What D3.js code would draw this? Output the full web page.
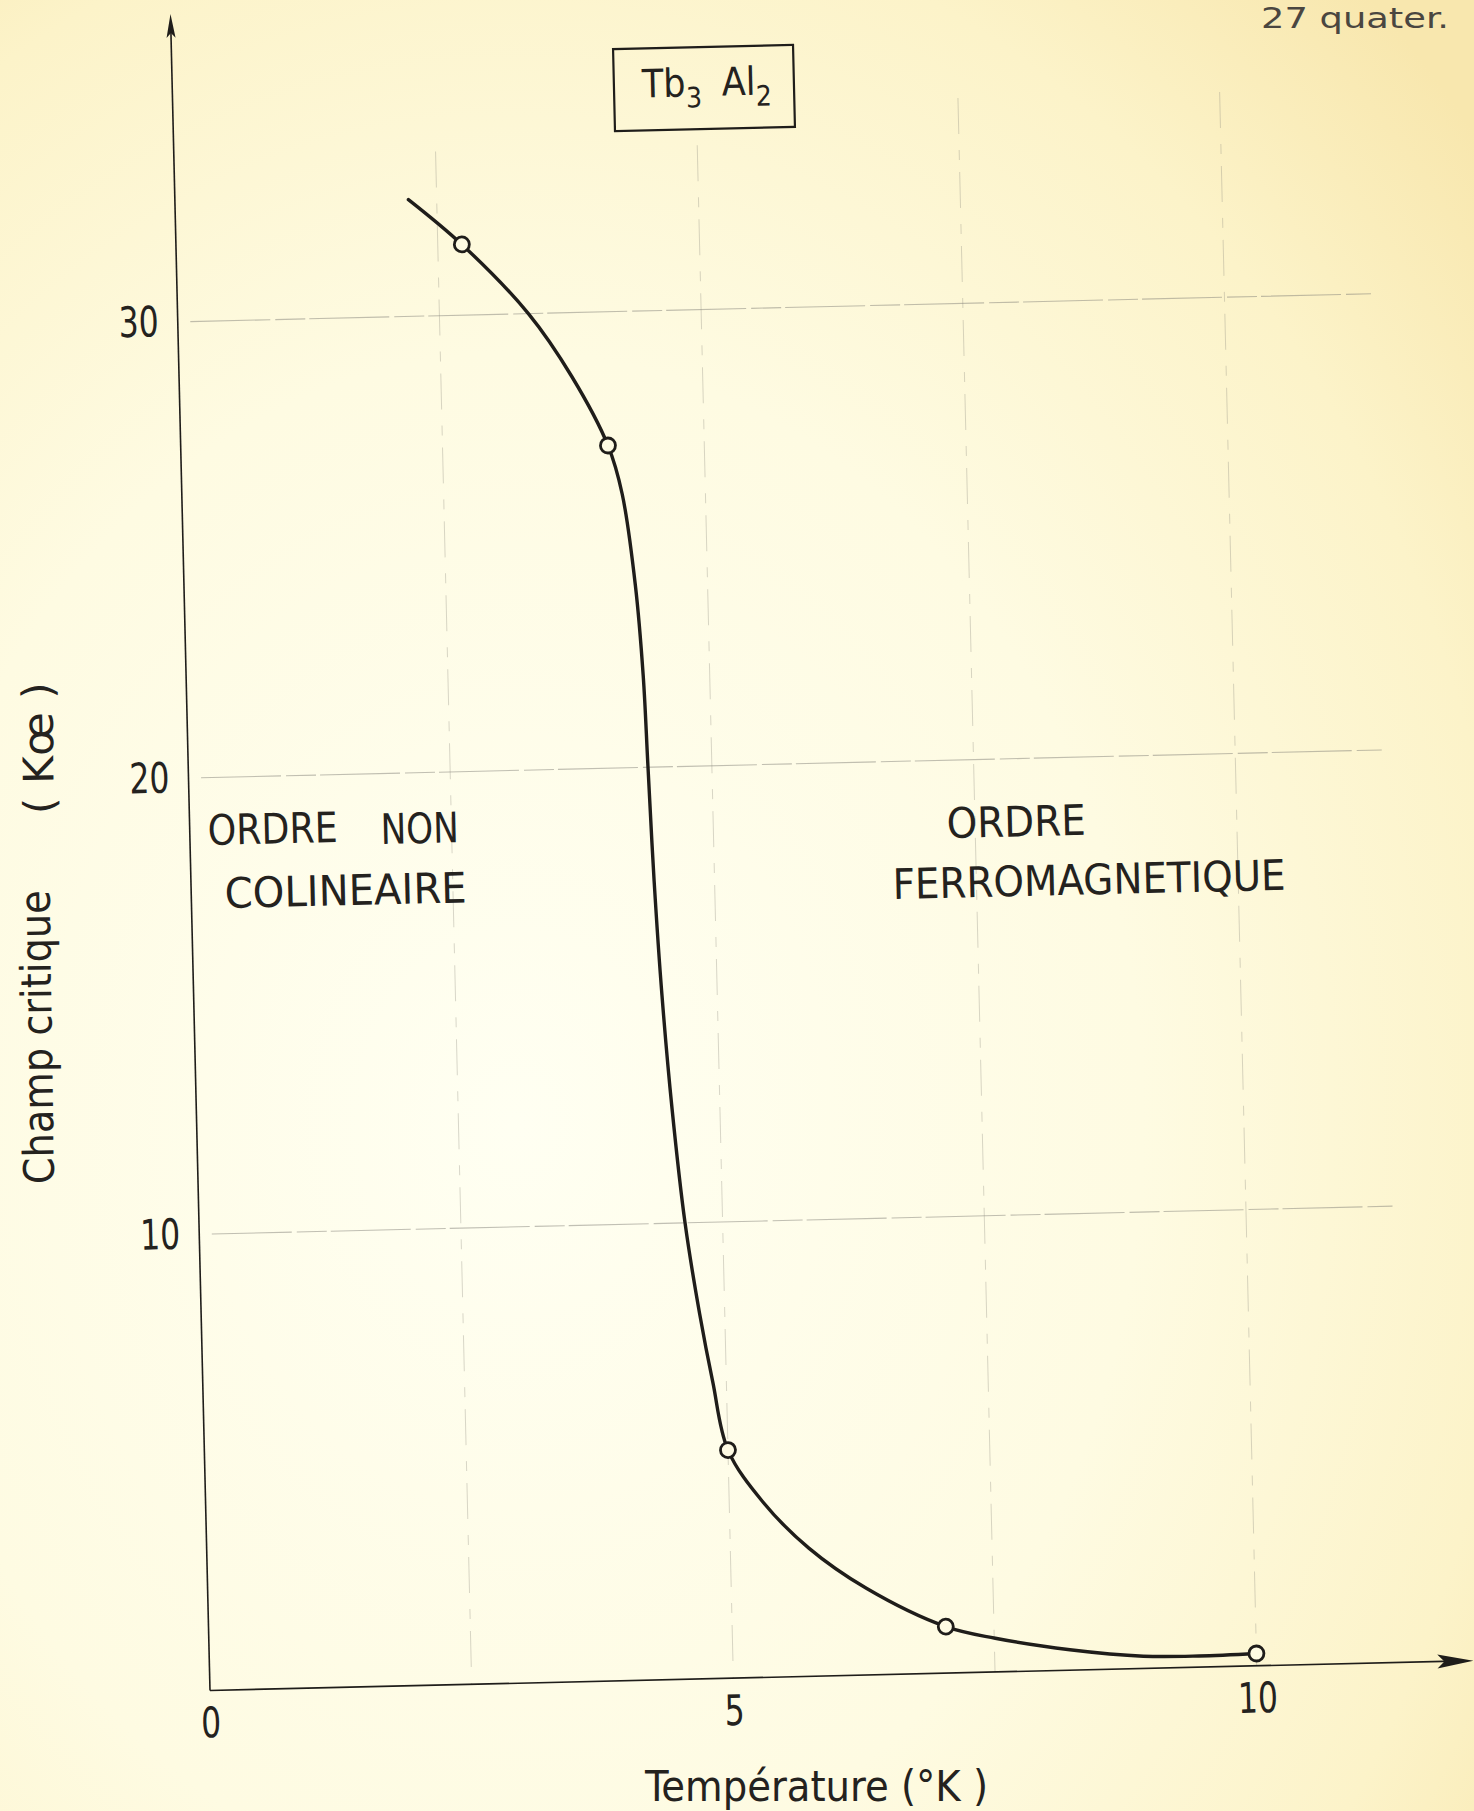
<!DOCTYPE html>
<html>
<head>
<meta charset="utf-8">
<script src="https://cdn.jsdelivr.net/npm/d3@7"></script>
<style>
  html, body { margin: 0; padding: 0; background: #fdf9de; }
  svg { display: block; }
  text { font-family: "DejaVu Sans Condensed", "DejaVu Sans", sans-serif; fill: #24221e; }
</style>
</head>
<body>
<svg id="chart" width="1474" height="1811"></svg>
<script>
// measured points (open circles) - temperature in K, critical field in kOe
const tempPoints  = [2.73, 4.08, 5.0, 7.04, 10.0];
const fieldPoints = [31.55, 27.07, 5.0, 1.02, 0.27];

// the hand drawn curve
const curveTemp  = [2.23, 2.73, 3.35, 3.75, 4.08, 4.205, 4.31, 4.365, 4.39, 4.423, 4.472, 4.543, 4.641,
                    4.76, 4.87, 5.0, 5.32, 5.75, 6.29, 7.04, 7.51, 8.22, 8.92, 9.45, 10.0];
const curveField = [32.56, 31.55, 30.0, 28.6, 27.07, 26.0, 24.0, 22.0, 20.0, 17.5, 15.0, 12.5, 10.0,
                    8.0, 6.5, 5.0, 3.85, 2.81, 1.9, 1.02, 0.74, 0.45, 0.27, 0.245, 0.27];

const xTicks = [0, 5, 10];
const yTicks = [10, 20, 30];
const xGrid  = [2.5, 5, 7.5, 10];
const yGrid  = [10, 20, 30];

const ANGLE = -1.35; // the sheet sits a little skewed on the scanner
const origin = { x: 210, y: 1690.5 };
const paper = '#fefbe3';
const ink = '#1f1d1a';

const svg = d3.select('#chart');
const tilt = (x, y, extra = 0) => `translate(${x},${y}) rotate(${ANGLE + extra})`;

// paper
const defs = svg.append('defs');
const grad = defs.append('radialGradient').attr('id', 'paper')
  .attr('cx', '35%').attr('cy', '62%').attr('r', '85%');
grad.append('stop').attr('offset', '0%').attr('stop-color', '#fffff2');
grad.append('stop').attr('offset', '50%').attr('stop-color', '#fefbe2');
grad.append('stop').attr('offset', '80%').attr('stop-color', '#fcf3c9');
grad.append('stop').attr('offset', '100%').attr('stop-color', '#f8e7ae');
svg.append('rect').attr('width', 1474).attr('height', 1811).attr('fill', 'url(#paper)');

// scales (local, before the tilt)
const x = d3.scaleLinear().domain([0, 10]).range([0, 1047]);
const y = d3.scaleLinear().domain([0, 30]).range([0, -1369]);

const plot = svg.append('g').attr('transform', tilt(origin.x, origin.y));

// grid - the verticals were not ruled all the way up on the left
const gridTop = d => (d < 6 ? 33.6 : 34.5);
plot.append('g').selectAll('line').data(yGrid).join('line')
  .attr('x1', x(0.12)).attr('x2', x(11.4))
  .attr('y1', d => y(d)).attr('y2', d => y(d))
  .attr('stroke', '#84827a').attr('stroke-opacity', 0.5).attr('stroke-width', 1.1)
  .attr('stroke-dasharray', '80,5,30,4');
plot.append('g').selectAll('line').data(xGrid).join('line')
  .attr('x1', d => x(d)).attr('x2', d => x(d))
  .attr('y1', d => y(gridTop(d))).attr('y2', 0)
  .attr('stroke', '#8f8d80').attr('stroke-opacity', 0.35).attr('stroke-width', 1)
  .attr('stroke-dasharray', '36,16,10,12');

// axes
const xEnd = x(12.07), yEnd = y(36.75);
plot.append('line').attr('x1', 0).attr('y1', 0).attr('x2', xEnd - 20).attr('y2', 0)
  .attr('stroke', ink).attr('stroke-width', 1.7);
plot.append('line').attr('x1', 0).attr('y1', 0).attr('x2', 0).attr('y2', yEnd + 14)
  .attr('stroke', ink).attr('stroke-width', 1.6);
plot.append('path')
  .attr('d', `M${xEnd},0 L${xEnd - 36},-7 L${xEnd - 29},0 L${xEnd - 36},7 Z`)
  .attr('fill', ink);
plot.append('path')
  .attr('d', `M0,${yEnd} L-4.5,${yEnd + 24} L0,${yEnd + 19} L4.5,${yEnd + 24} Z`)
  .attr('fill', ink);

// tick labels through d3 axes, tick marks hidden
const xAxis = plot.append('g')
  .call(d3.axisBottom(x).tickValues(xTicks).tickSize(0).tickPadding(17).tickFormat(d3.format('d')));
const yAxis = plot.append('g')
  .call(d3.axisLeft(y).tickValues(yTicks).tickSize(0).tickPadding(19).tickFormat(d3.format('d')));
[xAxis, yAxis].forEach(g => {
  g.select('.domain').remove();
  g.attr('font-family', null).attr('font-size', null);
  g.selectAll('text')
    .attr('font-size', 42)
    .attr('fill', ink)
    .attr('textLength', d => String(d).length * 20)
    .attr('lengthAdjust', 'spacingAndGlyphs');
});

// curve
const line = d3.line()
  .x(i => x(curveTemp[i]))
  .y(i => y(curveField[i]))
  .curve(d3.curveCatmullRom.alpha(0.5));
plot.append('path')
  .attr('d', line(d3.range(curveTemp.length)))
  .attr('fill', 'none').attr('stroke', ink).attr('stroke-width', 3.4)
  .attr('stroke-linecap', 'round');

plot.append('g').selectAll('circle').data(d3.range(tempPoints.length)).join('circle')
  .attr('cx', i => x(tempPoints[i])).attr('cy', i => y(fieldPoints[i]))
  .attr('r', 7.5)
  .attr('fill', paper).attr('stroke', ink).attr('stroke-width', 2.8);

// lettering
const label = (txt, px, py, len, size = 42, extra = 0) =>
  svg.append('text').attr('transform', tilt(px, py, extra))
    .attr('font-size', size).attr('textLength', len).attr('lengthAdjust', 'spacingAndGlyphs')
    .text(txt);

label('ORDRE', 208, 845, 130);
label('NON', 381, 844, 78);
label('COLINEAIRE', 225, 908, 242);
label('ORDRE', 947, 838, 139);
label('FERROMAGNETIQUE', 893, 899, 393);

label('Température (°K )', 645, 1801, 343, 42, 1.35);
label('Champ critique', 54, 1184, 294, 42, -89.5);
label('( Kœ )', 54, 814, 132, 42, -89.5);

// title box
const title = svg.append('g').attr('transform', tilt(704, 88));
title.append('rect').attr('x', -90).attr('y', -41).attr('width', 180).attr('height', 82)
  .attr('fill', 'none').attr('stroke', ink).attr('stroke-width', 2.2);
const tt = title.append('text').attr('x', -62).attr('y', 8).attr('font-size', 39);
tt.append('tspan').text('Tb');
tt.append('tspan').attr('font-size', 28).attr('dy', 11).text('3');
tt.append('tspan').attr('dx', 20).attr('dy', -11).text('Al');
tt.append('tspan').attr('font-size', 28).attr('dy', 11).text('2');

// page number, typewritten
svg.append('text').attr('x', 1261).attr('y', 28)
  .attr('font-family', '"Courier New", "Liberation Mono", monospace')
  .attr('font-size', 29).style('fill', '#4a4640')
  .attr('textLength', 188).attr('lengthAdjust', 'spacingAndGlyphs')
  .text('27 quater.');
</script>
</body>
</html>
